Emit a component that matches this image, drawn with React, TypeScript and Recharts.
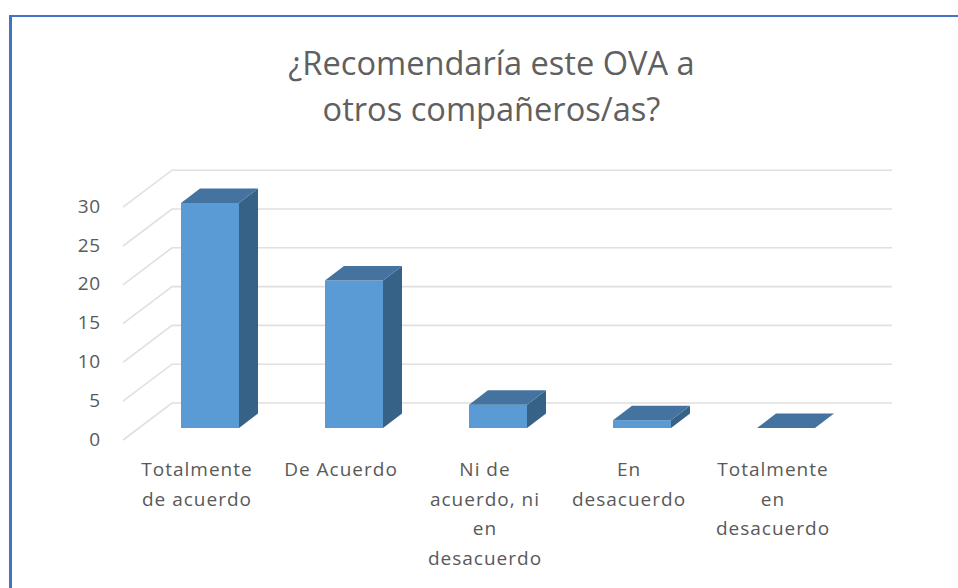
import React from 'react';
import { BarChart, Bar, XAxis, YAxis, CartesianGrid } from 'recharts';

// Survey answers
const categories = [
  'Totalmente de acuerdo',
  'De Acuerdo',
  'Ni de acuerdo, ni en desacuerdo',
  'En desacuerdo',
  'Totalmente en desacuerdo',
];
const responses = [29, 19, 3, 1, 0];
const yTicks = [0, 5, 10, 15, 20, 25, 30];
const wrappedLabels = [
  ['Totalmente', 'de acuerdo'],
  ['De Acuerdo'],
  ['Ni de', 'acuerdo, ni', 'en', 'desacuerdo'],
  ['En', 'desacuerdo'],
  ['Totalmente', 'en', 'desacuerdo'],
];
const titleLines = ['¿Recomendaría este OVA a', 'otros compañeros/as?'];

const data = categories.map((name, i) => ({ name, value: responses[i] }));

const FONT = '"Open Sans", sans-serif';
const TEXT_COLOR = '#595959';

// fake 3D depth of the bars and of the back wall
const BAR_DX = 19;
const BAR_DY = 14.5;

const Bar3D = ({ x, y, width, height }: any) => (
  <g>
    {height > 0 && <rect x={x} y={y} width={width} height={height} fill="#5b9bd5" />}
    {height > 0 && (
      <polygon
        points={`${x + width},${y} ${x + width + BAR_DX},${y - BAR_DY} ${x + width + BAR_DX},${y + height - BAR_DY} ${x + width},${y + height}`}
        fill="#376287"
      />
    )}
    <polygon
      points={`${x},${y} ${x + BAR_DX},${y - BAR_DY} ${x + width + BAR_DX},${y - BAR_DY} ${x + width},${y}`}
      fill="#44739f"
    />
  </g>
);

// one floor/wall line: diagonal on the side wall, then straight along the back
const WallLine = ({ y1 }: any) => (
  <path d={`M123 ${y1 + 12} L172 ${y1 - 25} L892 ${y1 - 25}`} fill="none" stroke="#e0e0e0" strokeWidth={1.6} />
);

const YTick = ({ y, payload }: any) => (
  <text x={100.5} y={y + 17.5} textAnchor="end" fontFamily={FONT} fontSize={19} letterSpacing={0.5} fill={TEXT_COLOR}>
    {payload.value}
  </text>
);

const XTick = ({ x, payload }: any) => {
  const lines = wrappedLabels[categories.indexOf(payload.value)] || [];
  return (
    <text textAnchor="middle" fontFamily={FONT} fontSize={19} letterSpacing={1} fill={TEXT_COLOR}>
      {lines.map((line, i) => (
        <tspan key={line} x={x - 13} y={476 + i * 29.7}>
          {line}
        </tspan>
      ))}
    </text>
  );
};

export default function App() {
  return (
    <div style={{ position: 'fixed', left: 0, top: 0, width: 958, height: 588, overflow: 'hidden', background: '#fff' }}>
      <div
        style={{
          position: 'absolute',
          left: 9,
          top: 15,
          width: 980,
          height: 600,
          borderLeft: '3px solid #4472c4',
          borderTop: '2px solid #4472c4',
        }}
      />
      <div
        style={{
          position: 'absolute',
          left: 0,
          top: 40,
          width: 983,
          textAlign: 'center',
          fontFamily: FONT,
          fontSize: 32.6,
          lineHeight: '46px',
          color: '#606060',
        }}
      >
        {titleLines.map((line) => (
          <div key={line}>{line}</div>
        ))}
      </div>
      <div style={{ position: 'absolute', left: 0, top: 0 }}>
        <BarChart width={958} height={588} data={data} margin={{ top: 195.2, right: 100, bottom: 0, left: 78 }}>
          <CartesianGrid vertical={false} horizontal={(props: any) => <WallLine key={props.y1} {...props} />} />
          <XAxis dataKey="name" interval={0} height={160} axisLine={false} tickLine={false} tick={<XTick />} />
          <YAxis width={60} domain={[0, 30]} ticks={yTicks} axisLine={false} tickLine={false} tick={<YTick />} />
          <Bar dataKey="value" barSize={58} isAnimationActive={false} shape={<Bar3D />} />
        </BarChart>
      </div>
    </div>
  );
}
